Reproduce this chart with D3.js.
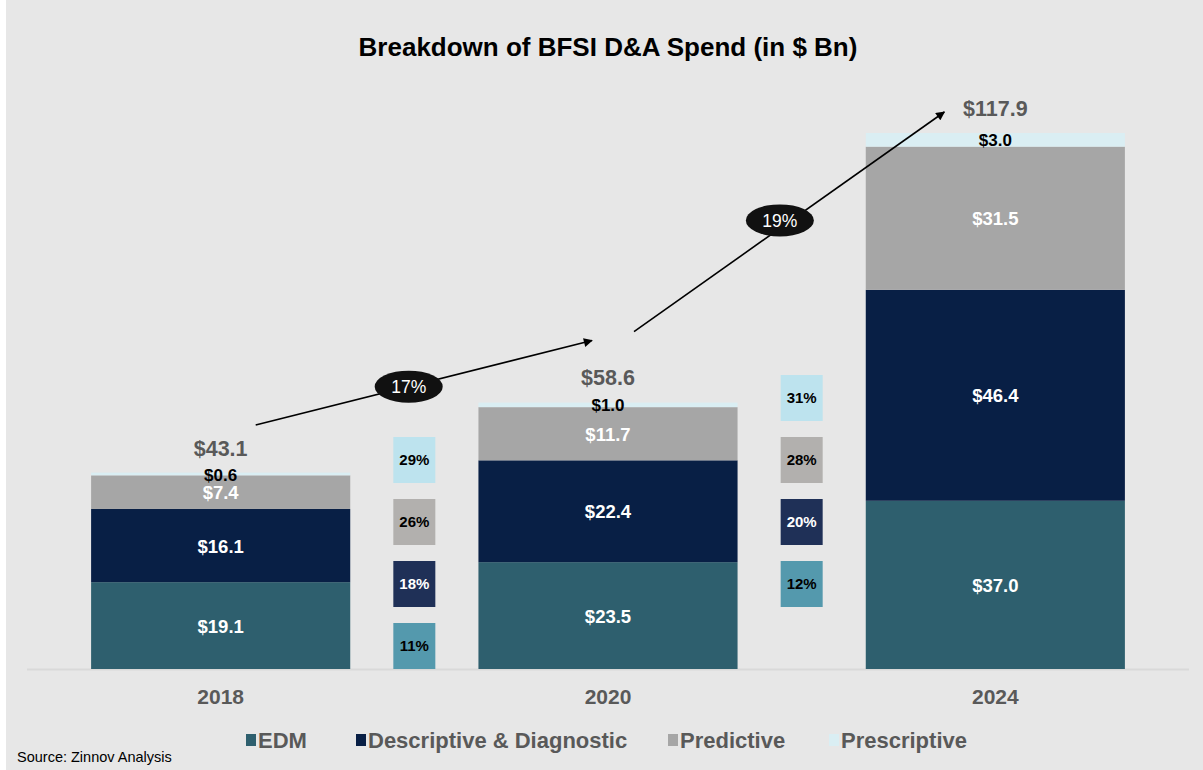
<!DOCTYPE html>
<html>
<head>
<meta charset="utf-8">
<script src="https://cdn.jsdelivr.net/npm/d3@7"></script>
<style>
  html, body { margin: 0; padding: 0; background: #ffffff; }
  svg text { font-family: "Liberation Sans", Arial, sans-serif; }
</style>
</head>
<body>
<div id="chart"></div>
<script>
// chart data
var years = ["2018", "2020", "2024"];
var segments = ["EDM", "Descriptive & Diagnostic", "Predictive", "Prescriptive"];
var edm = [19.1, 23.5, 37.0];
var descriptive = [16.1, 22.4, 46.4];
var predictive = [7.4, 11.7, 31.5];
var prescriptive = [0.6, 1.0, 3.0];
var totals = [43.1, 58.6, 117.9];
// segment CAGR between consecutive years (EDM, Desc, Pred, Presc)
var segmentCagr = [[11, 18, 26, 29], [12, 20, 28, 31]];
var totalCagr = ["17%", "19%"];

var width = 1203, height = 770;
var segColors = ["#2e5f6e", "#081f45", "#a6a6a6", "#daeef3"];
var cagrColors = ["#5499ad", "#1f3057", "#b2b0ae", "#bde3ee"];
var labelColors = ["#ffffff", "#ffffff", "#ffffff", "#000000"];
var labelSizes = ["18.5px", "18.5px", "18.5px", "17px"];
var cagrText = ["#000000", "#ffffff", "#000000", "#000000"];

var svg = d3.select("#chart").append("svg")
    .attr("width", width)
    .attr("height", height);

// gray panel with a thin white left edge
svg.append("rect")
    .attr("x", 6).attr("y", 0)
    .attr("width", width - 6).attr("height", height)
    .attr("fill", "#e7e7e7");

var x = d3.scaleBand()
    .domain(years)
    .range([27, 1189])
    .paddingInner(0.331)
    .paddingOuter(0.1655);

var y = d3.scaleLinear()
    .domain([0, 117.9])
    .range([669, 133]);

// stack the series
var rows = years.map(function (yr, i) {
    return { year: yr, 0: edm[i], 1: descriptive[i], 2: predictive[i], 3: prescriptive[i] };
});
var stack = d3.stack().keys([0, 1, 2, 3]);
var layers = stack(rows);

// baseline
svg.append("line")
    .attr("x1", 27).attr("x2", 1189)
    .attr("y1", 669.5).attr("y2", 669.5)
    .attr("stroke", "#d9d9d9")
    .attr("stroke-width", 2);

var gBars = svg.append("g").attr("class", "g-bars");
gBars.selectAll("g")
    .data(layers)
    .enter().append("g")
    .attr("fill", function (d) { return segColors[d.key]; })
    .selectAll("rect")
    .data(function (d) { return d; })
    .enter().append("rect")
    .attr("x", function (d) { return x(d.data.year); })
    .attr("y", function (d) { return y(d[1]); })
    .attr("width", x.bandwidth())
    .attr("height", function (d) { return y(d[0]) - y(d[1]); });

// segment value labels
var gLabels = svg.append("g").attr("class", "g-labels");
layers.forEach(function (layer) {
    gLabels.selectAll(null)
        .data(layer)
        .enter().append("text")
        .attr("x", function (d) { return x(d.data.year) + x.bandwidth() / 2; })
        .attr("y", function (d) { return (y(d[0]) + y(d[1])) / 2 + 0.5; })
        .attr("dy", "0.36em")
        .attr("text-anchor", "middle")
        .attr("font-weight", "bold")
        .attr("font-size", labelSizes[layer.key])
        .attr("fill", labelColors[layer.key])
        .text(function (d) { return "$" + (d[1] - d[0]).toFixed(1); });
});

// totals above bars
svg.append("g").selectAll("text")
    .data(totals)
    .enter().append("text")
    .attr("x", function (d, i) { return x(years[i]) + x.bandwidth() / 2; })
    .attr("y", function (d) { return y(d) - 25; })
    .attr("dy", "0.36em")
    .attr("text-anchor", "middle")
    .attr("font-weight", "bold")
    .attr("font-size", "21.5px")
    .attr("fill", "#595959")
    .text(function (d) { return "$" + d.toFixed(1); });

// x axis labels
svg.append("g").selectAll("text")
    .data(years)
    .enter().append("text")
    .attr("x", function (d) { return x(d) + x.bandwidth() / 2; })
    .attr("y", 696)
    .attr("dy", "0.36em")
    .attr("text-anchor", "middle")
    .attr("font-weight", "bold")
    .attr("font-size", "21px")
    .attr("fill", "#595959")
    .text(function (d) { return d; });

// segment CAGR boxes between bars
var boxW = 42, boxH = 46, boxStep = 62;
var columnLift = [0, 1];
segmentCagr.forEach(function (col, c) {
    var cx = (x(years[c]) + x.bandwidth() + x(years[c + 1])) / 2;
    var g = svg.append("g").attr("class", "g-cagr");
    var cells = g.selectAll("g")
        .data(col)
        .enter().append("g")
        .attr("transform", function (d, k) {
            var bottom = 669 - (k + columnLift[c]) * boxStep;
            return "translate(" + (cx - boxW / 2) + "," + (bottom - boxH) + ")";
        });
    cells.append("rect")
        .attr("width", boxW)
        .attr("height", boxH)
        .attr("fill", function (d, k) { return cagrColors[k]; });
    cells.append("text")
        .attr("x", boxW / 2)
        .attr("y", boxH / 2)
        .attr("dy", "0.36em")
        .attr("text-anchor", "middle")
        .attr("font-weight", "bold")
        .attr("font-size", "15px")
        .attr("fill", function (d, k) { return cagrText[k]; })
        .text(function (d) { return d + "%"; });
});

// growth arrows
svg.append("defs").append("marker")
    .attr("id", "arrowhead")
    .attr("viewBox", "0 0 10 10")
    .attr("refX", 9).attr("refY", 5)
    .attr("markerWidth", 10).attr("markerHeight", 9)
    .attr("markerUnits", "userSpaceOnUse")
    .attr("orient", "auto")
    .append("path")
    .attr("d", "M0,0 L10,5 L0,10 z")
    .attr("fill", "#000");

var arrowOffsets = [
    { sx: 35, sy: -48, ex: -16, ey: -62, t: 0.455, dy: 0 },
    { sx: 26, sy: -71, ex: -51, ey: -21, t: 0.47, dy: -8 }
];
totalCagr.forEach(function (label, i) {
    var o = arrowOffsets[i];
    var x1 = x(years[i]) + x.bandwidth() / 2 + o.sx;
    var y1 = y(totals[i]) + o.sy;
    var x2 = x(years[i + 1]) + x.bandwidth() / 2 + o.ex;
    var y2 = y(totals[i + 1]) + o.ey;
    svg.append("line")
        .attr("x1", x1).attr("y1", y1)
        .attr("x2", x2).attr("y2", y2)
        .attr("stroke", "#000")
        .attr("stroke-width", 1.6)
        .attr("marker-end", "url(#arrowhead)");
    var mx = x1 + (x2 - x1) * o.t, my = y1 + (y2 - y1) * o.t + o.dy;
    svg.append("ellipse")
        .attr("cx", mx).attr("cy", my)
        .attr("rx", 34).attr("ry", 16)
        .attr("fill", "#111111");
    svg.append("text")
        .attr("x", mx).attr("y", my)
        .attr("dy", "0.36em")
        .attr("text-anchor", "middle")
        .attr("font-size", "17.5px")
        .attr("fill", "#ffffff")
        .text(label);
});

// title
svg.append("text")
    .attr("x", 608).attr("y", 47)
    .attr("dy", "0.36em")
    .attr("text-anchor", "middle")
    .attr("font-weight", "bold")
    .attr("font-size", "26px")
    .attr("fill", "#000")
    .text("Breakdown of BFSI D&A Spend (in $ Bn)");

// legend
var legendX = [246, 356, 668, 829];
var legend = svg.append("g").attr("class", "g-legend")
    .selectAll("g")
    .data(segments)
    .enter().append("g")
    .attr("transform", function (d, i) { return "translate(" + legendX[i] + ",740)"; });
legend.append("rect")
    .attr("x", 0).attr("y", -6)
    .attr("width", 10).attr("height", 12)
    .attr("fill", function (d, i) { return segColors[i]; });
legend.append("text")
    .attr("x", 12).attr("y", 0)
    .attr("dy", "0.36em")
    .attr("font-weight", "bold")
    .attr("font-size", "22px")
    .attr("fill", "#595959")
    .text(function (d) { return d; });

// source note
svg.append("text")
    .attr("x", 17).attr("y", 757)
    .attr("dy", "0.36em")
    .attr("font-size", "14.5px")
    .attr("fill", "#000")
    .text("Source: Zinnov Analysis");
</script>
</body>
</html>
